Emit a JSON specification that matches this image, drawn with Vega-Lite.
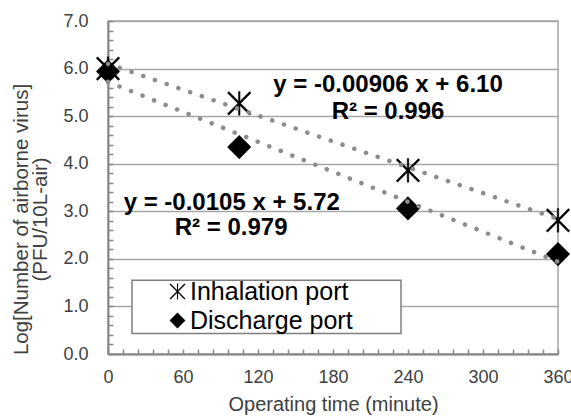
{
  "$schema": "https://vega.github.io/schema/vega-lite/v6.json",
  "width": 450,
  "height": 333,
  "autosize": {"type": "none"},
  "padding": {"left": 108, "top": 21, "right": 13, "bottom": 64},
  "background": "white",
  "config": {
    "font": "Liberation Sans",
    "view": {"stroke": "#a6a6a6", "strokeWidth": 1.5}
  },
  "datasets": {
    "points": [
      {"time": 0, "value": 6.0, "port": "Inhalation port"},
      {"time": 105, "value": 5.27, "port": "Inhalation port"},
      {"time": 240, "value": 3.86, "port": "Inhalation port"},
      {"time": 360, "value": 2.81, "port": "Inhalation port"},
      {"time": 0, "value": 5.94, "port": "Discharge port"},
      {"time": 105, "value": 4.35, "port": "Discharge port"},
      {"time": 240, "value": 3.06, "port": "Discharge port"},
      {"time": 360, "value": 2.1, "port": "Discharge port"}
    ],
    "trend": [
      {"time": 0, "value": 6.1, "port": "Inhalation port"},
      {"time": 360, "value": 2.838, "port": "Inhalation port"},
      {"time": 0, "value": 5.72, "port": "Discharge port"},
      {"time": 360, "value": 1.94, "port": "Discharge port"}
    ],
    "labels": [
      {"time": 224, "value": 5.65, "label": "y = -0.00906 x + 6.10"},
      {"time": 224, "value": 5.08, "label": "R² = 0.996"},
      {"time": 99, "value": 3.17, "label": "y = -0.0105 x + 5.72"},
      {"time": 98.5, "value": 2.64, "label": "R² = 0.979"}
    ],
    "box": [{"x1": 19.2, "x2": 234.4, "y1": 1.55, "y2": 0.43}]
  },
  "encoding": {
    "x": {
      "field": "time",
      "type": "quantitative",
      "scale": {"domain": [0, 360], "nice": false, "zero": false},
      "axis": {
        "title": "Operating time (minute)",
        "values": [0, 12, 24, 36, 48, 60, 72, 84, 96, 108, 120, 132, 144, 156, 168, 180, 192, 204, 216, 228, 240, 252, 264, 276, 288, 300, 312, 324, 336, 348, 360],
        "labelExpr": "datum.value % 60 == 0 ? format(datum.value, 'd') : ''",
        "labelOverlap": false,
        "labelFlush": false,
        "grid": false,
        "tickSize": -5,
        "tickColor": "#888888",
        "tickWidth": 1.5,
        "domainColor": "#888888",
        "domainWidth": 2,
        "labelPadding": 19,
        "labelFontSize": 18,
        "labelColor": "#404040",
        "titleFontSize": 20,
        "titleFontWeight": "normal",
        "titleColor": "#404040",
        "titlePadding": 8
      }
    },
    "y": {
      "field": "value",
      "type": "quantitative",
      "scale": {"domain": [0, 7], "nice": false, "zero": false},
      "axis": {
        "title": ["Log[Number of airborne virus]", "(PFU/10L-air)"],
        "values": [0, 0.2, 0.4, 0.6, 0.8, 1, 1.2, 1.4, 1.6, 1.8, 2, 2.2, 2.4, 2.6, 2.8, 3, 3.2, 3.4, 3.6, 3.8, 4, 4.2, 4.4, 4.6, 4.8, 5, 5.2, 5.4, 5.6, 5.8, 6, 6.2, 6.4, 6.6, 6.8, 7],
        "labelExpr": "abs(datum.value - round(datum.value)) < 0.01 ? format(datum.value, '.1f') : ''",
        "labelOverlap": false,
        "labelFlush": false,
        "grid": true,
        "gridColor": "#a6a6a6",
        "gridWidth": 1.5,
        "gridOpacity": {"condition": {"test": "abs(datum.value - round(datum.value)) < 0.01", "value": 1}, "value": 0},
        "tickSize": -5,
        "tickColor": "#888888",
        "tickWidth": 1.5,
        "domainColor": "#888888",
        "domainWidth": 2,
        "labelPadding": 25,
        "labelFontSize": 18,
        "labelColor": "#404040",
        "titleFontSize": 20.5,
        "titleFontWeight": "normal",
        "titleColor": "#404040",
        "titleLineHeight": 19,
        "titleX": -77,
        "titleY": 198
      }
    }
  },
  "layer": [
    {
      "data": {"name": "box"},
      "mark": {"type": "rect", "fill": "white", "stroke": "#7f7f7f", "strokeWidth": 1.5},
      "encoding": {
        "x": {"field": "x1", "type": "quantitative", "title": "Operating time (minute)"},
        "x2": {"field": "x2"},
        "y": {"field": "y1", "type": "quantitative", "title": ["Log[Number of airborne virus]", "(PFU/10L-air)"]},
        "y2": {"field": "y2"}
      }
    },
    {
      "data": {"name": "points"},
      "mark": {"type": "point", "filled": true, "fill": "black", "stroke": "black", "strokeWidth": 0.4, "size": 560, "opacity": 1},
      "encoding": {
        "shape": {
          "field": "port",
          "type": "nominal",
          "scale": {
            "domain": ["Inhalation port", "Discharge port"],
            "range": ["M-1,-0.88L-0.88,-1L1,0.88L0.88,1ZM-1,0.88L0.88,-1L1,-0.88L-0.88,1ZM-0.07,-1L0.07,-1L0.07,1L-0.07,1Z", "diamond"]
          },
          "legend": {
            "title": null,
            "orient": "none",
            "legendX": 57,
            "legendY": 258,
            "padding": 0,
            "labelFontSize": 25,
            "labelColor": "black",
            "labelFont": "Liberation Sans",
            "labelOffset": 0,
            "labelLimit": 400,
            "symbolSize": 250,
            "symbolStrokeWidth": 2,
            "symbolFillColor": "black",
            "symbolStrokeColor": "black",
            "rowPadding": 3
          }
        }
      }
    },
    {
      "data": {"name": "trend"},
      "mark": {"type": "line", "color": "#8c8c8c", "strokeWidth": 4.5, "strokeCap": "round", "strokeDash": [0.1, 12.3]},
      "encoding": {
        "detail": {"field": "port", "type": "nominal"}
      }
    },
    {
      "data": {"name": "labels"},
      "mark": {"type": "text", "fontSize": 24, "fontWeight": "bold", "color": "black", "font": "Liberation Sans"},
      "encoding": {
        "text": {"field": "label", "type": "nominal"}
      }
    }
  ]
}
